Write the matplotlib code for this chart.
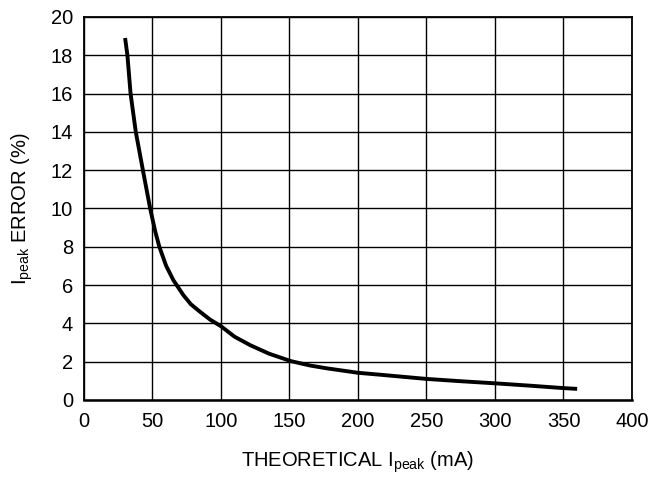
import matplotlib
matplotlib.use('Agg')
import matplotlib.pyplot as plt

plt.rcParams['font.family'] = ['Liberation Sans', 'DejaVu Sans']
plt.rcParams['mathtext.default'] = 'regular'

# values
current_ma = [30, 31.7, 34, 37.8, 43, 48.3, 52, 55, 60, 65.3, 72.6, 78, 84.8, 92, 100,
              110, 121.4, 135, 151, 165, 177.5, 200, 216, 250, 275, 300, 325, 350, 360]
error_pct = [18.9, 18.0, 16.0, 14.0, 12.0, 10.0, 8.8, 8.0, 7.0, 6.25, 5.47, 5.0, 4.6, 4.2, 3.85,
             3.3, 2.86, 2.42, 2.03, 1.8, 1.65, 1.42, 1.32, 1.1, 0.98, 0.87, 0.75, 0.62, 0.58]

x_ticks = list(range(0, 401, 50))
y_ticks = list(range(0, 21, 2))

fig = plt.figure(figsize=(6.65, 4.8), dpi=100)
ax = fig.add_axes([0.1263, 0.1667, 0.824, 0.798])

ax.plot(current_ma, error_pct, color='black', linewidth=2.8, solid_capstyle='butt')

ax.set_xlim(0, 400)
ax.set_ylim(0, 20)
ax.set_xticks(x_ticks)
ax.set_yticks(y_ticks)
ax.grid(True, color='black', linewidth=1.0)
ax.set_axisbelow(True)
for s in ax.spines.values():
    s.set_linewidth(1.3)
ax.spines['bottom'].set_linewidth(1.8)
ax.tick_params(length=0, labelsize=14.5)
ax.tick_params(axis='x', pad=9)
ax.tick_params(axis='y', pad=8)

ax.set_xlabel(r'THEORETICAL I$_{peak}$ (mA)', fontsize=14.5, labelpad=13)
ax.set_ylabel(r'I$_{peak}$ ERROR (%)', fontsize=14.5, labelpad=11)

fig.savefig('out.png', dpi=100)
